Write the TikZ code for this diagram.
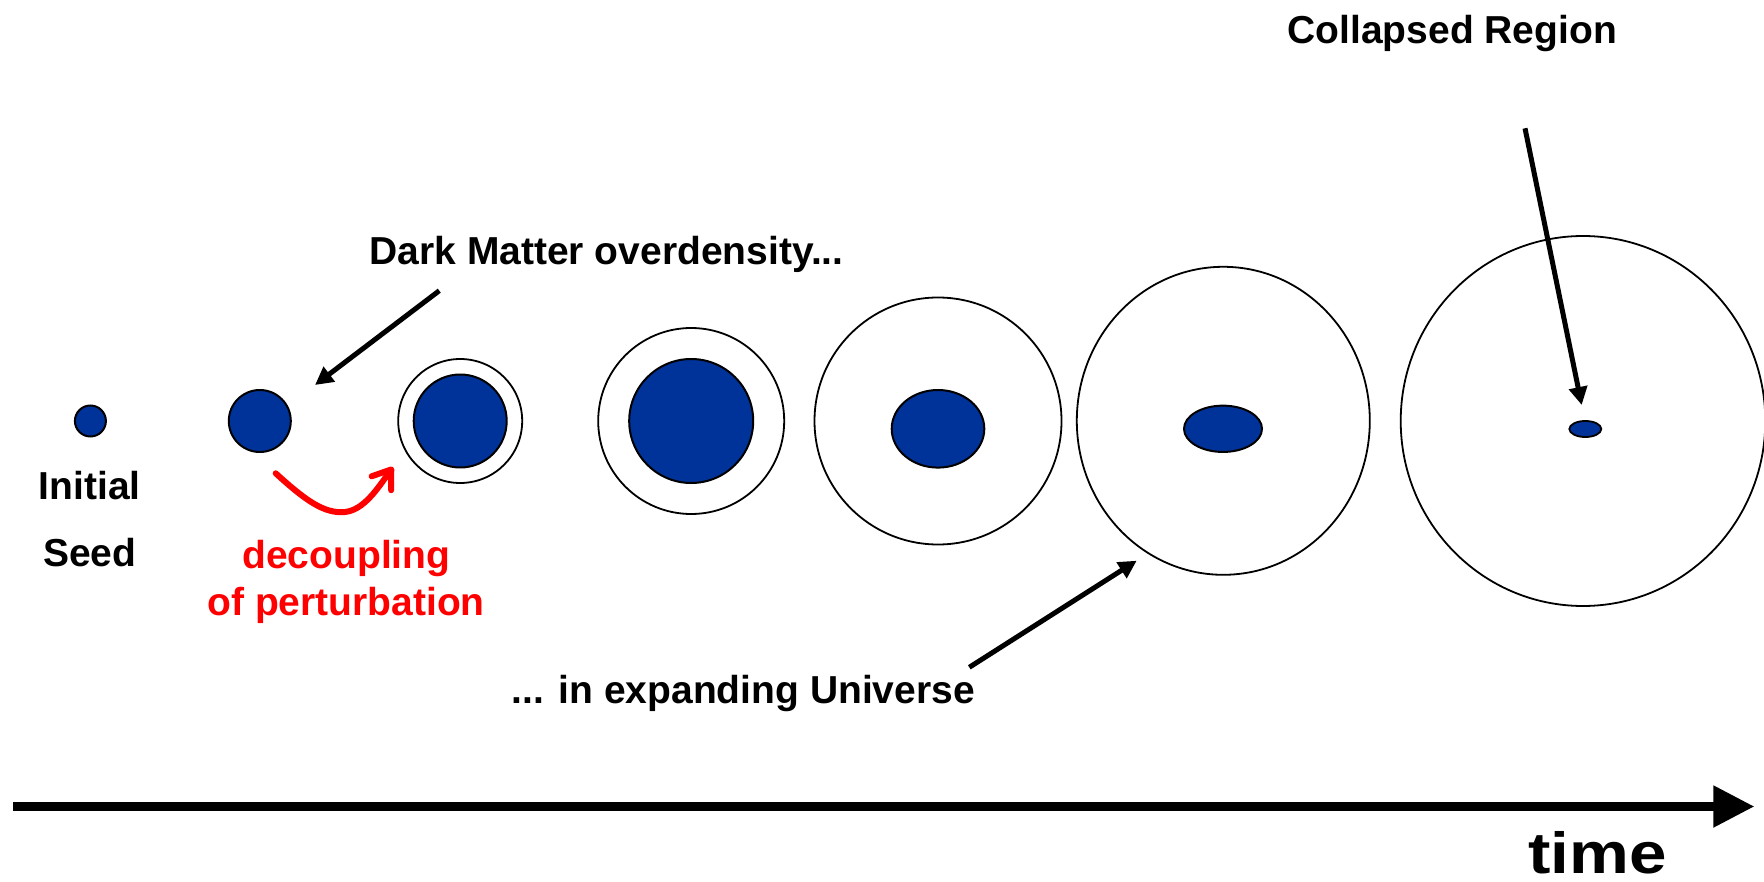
\documentclass[tikz,border=0pt]{standalone}
\usepackage{fontspec}
\setmainfont{Liberation Sans}
\newfontfamily\timefont[FakeStretch=1.16]{Liberation Sans}
\usetikzlibrary{arrows.meta,shapes.geometric}
\definecolor{dmblue}{RGB}{0,51,153}
\definecolor{pptred}{RGB}{255,0,0}
\begin{document}
\begin{tikzpicture}[x=1pt,y=-1pt,
  lbl/.style={font=\fontsize{39}{47}\selectfont\bfseries, anchor=base, inner sep=0pt},
  blob/.style={circle, draw=black, line width=2pt, fill=dmblue, inner sep=0pt},
  blobell/.style={ellipse, draw=black, line width=2pt, fill=dmblue, inner sep=0pt},
  halo/.style={ellipse, draw=black, line width=1.8pt, inner sep=0pt},
  ptr/.style={line width=5pt, -{Triangle[length=18pt,width=18pt]}},
]
\useasboundingbox (0,0) rectangle (1764,882);
% objects
\node[blob, minimum size=31pt] (seed) at (90.4,421) {};
\node[blob, minimum size=62pt] (s2) at (259.8,421) {};
\node[halo, minimum width=124pt, minimum height=124pt] (h3) at (460.2,421) {};
\node[blob, minimum size=93pt] (s3) at (460.2,421) {};
\node[halo, minimum width=186pt, minimum height=186pt] (h4) at (691.2,421) {};
\node[blob, minimum size=124pt] (s4) at (691.2,421) {};
\node[halo, minimum width=247pt, minimum height=247pt] (h5) at (938,421) {};
\node[blobell, minimum width=92.6pt, minimum height=77.6pt] (s5) at (938,428.8) {};
\node[halo, minimum width=293pt, minimum height=308pt] (h6) at (1223.3,420.8) {};
\node[blobell, minimum width=78pt, minimum height=46.3pt] (s6) at (1223,428.8) {};
\node[halo, minimum width=364.6pt, minimum height=370pt] (h7) at (1583,421) {};
\node[blobell, minimum width=32pt, minimum height=16pt, line width=1.8pt] (s7) at (1585.3,429) {};
% labels
\node[lbl] (collapsed) at (1452.3,43.3) {Collapsed Region};
\node[lbl] (dm) at (606.6,265) {Dark Matter overdensity...};
\node[lbl] (initial) at (89.8,499.3) {Initial};
\node[lbl] (seedlbl) at (89.8,566) {Seed};
\node[lbl, text=pptred] (dec1) at (346.4,568.3) {decoupling};
\node[lbl, text=pptred] (dec2) at (346.1,615) {of perturbation};
\node[lbl] (exp) at (743.3,703.3) {... in expanding Universe};
\node[anchor=base, inner sep=0pt, font=\timefont\bfseries\fontsize{58}{70}\selectfont] (timelbl) at (1597.5,873.3) {time};
% pointers
\coordinate (dmA) at (439.3,290.7);
\coordinate (dmB) at (315,385);
\draw[ptr] (dmA) -- (dmB);
\coordinate (expA) at (969.3,667.3);
\coordinate (expB) at (1136.7,560.7);
\draw[ptr] (expA) -- (expB);
\coordinate (colA) at (1525,128.3);
\coordinate (colB) at (1581.7,405);
\draw[ptr] (colA) -- (colB);
\coordinate (tA) at (13.3,806.5);
\coordinate (tB) at (1754.3,806.5);
\draw[line width=8.4pt, -{Triangle[length=41pt,width=40pt]}] (tA) -- (tB);
\coordinate (rA) at (275.7,473.3);
\coordinate (rB) at (393,467);
\draw[pptred, line width=6pt, line cap=round, -{Straight Barb[length=17pt,width=24pt,line cap=round,line join=round]}] (rA) .. controls (305,500) and (324,514) .. (345,512) .. controls (364,510) and (378,488) .. (rB);
\end{tikzpicture}
\end{document}
